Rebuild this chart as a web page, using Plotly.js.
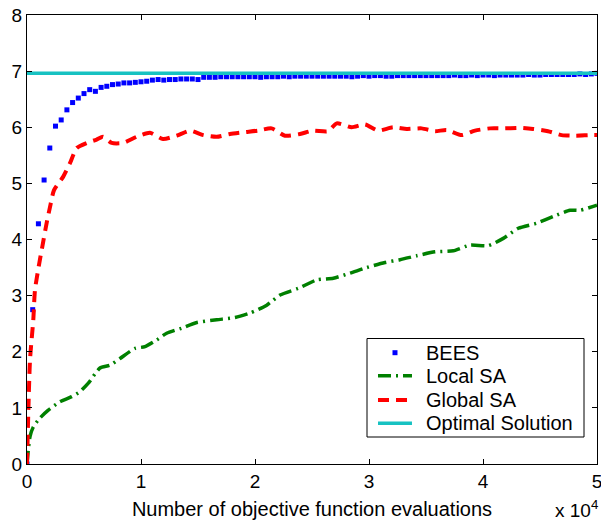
<!DOCTYPE html>
<html>
<head>
<meta charset="utf-8">
<script src="https://cdn.plot.ly/plotly-3.0.1.min.js"></script>
<style>
  html, body { margin: 0; padding: 0; background: #fff; }
  #chart { width: 601px; height: 520px; }
</style>
</head>
<body>
<div id="chart"></div>
<script>
// ---- data ----
const beesX = [0,500,1000,1500,2000,2500,3000,3500,4000,4500,
  5000,5500,6000,6500,7000,7500,8000,8500,9000,9500,
  10000,10500,11000,11500,12000,12500,13000,13500,14000,14500,
  15000,15500,16000,16500,17000,17500,18000,18500,19000,19500,
  20000,20500,21000,21500,22000,22500,23000,23500,24000,24500,
  25000,25500,26000,26500,27000,27500,28000,28500,29000,29500,
  30000,30500,31000,31500,32000,32500,33000,33500,34000,34500,
  35000,35500,36000,36500,37000,37500,38000,38500,39000,39500,
  40000,40500,41000,41500,42000,42500,43000,43500,44000,44500,
  45000,45500,46000,46500,47000,47500,48000,48500,49000,49500,50000];
const beesY = [0,2.75,4.28,5.06,5.63,6.02,6.13,6.31,6.44,6.52,
  6.60,6.67,6.64,6.71,6.73,6.76,6.77,6.79,6.79,6.80,
  6.81,6.82,6.84,6.85,6.84,6.85,6.85,6.86,6.86,6.86,
  6.85,6.89,6.89,6.89,6.90,6.90,6.90,6.90,6.90,6.90,
  6.90,6.89,6.90,6.90,6.90,6.91,6.90,6.91,6.91,6.91,
  6.91,6.91,6.91,6.91,6.91,6.91,6.91,6.90,6.91,6.92,
  6.91,6.92,6.92,6.91,6.91,6.92,6.92,6.92,6.92,6.92,
  6.92,6.92,6.92,6.92,6.92,6.93,6.92,6.92,6.93,6.92,
  6.93,6.93,6.92,6.93,6.93,6.93,6.93,6.93,6.94,6.93,
  6.93,6.94,6.94,6.94,6.94,6.94,6.94,6.95,6.94,6.95,6.96];

const localX = [0,263,553,1140,1870,2890,3920,4650,5380,6400,7280,8160,9470,10350,11380,12250,
  13570,14890,16640,18250,19560,21030,22190,23800,25410,26870,28330,29800,31400,32720,
  34180,35790,37400,38860,40460,41780,43100,44710,46170,47630,48510,49680,50000];
const localY = [0,0.49,0.66,0.82,0.96,1.11,1.20,1.29,1.44,1.71,1.76,1.88,2.06,2.09,2.21,2.33,
  2.42,2.52,2.57,2.61,2.69,2.83,3.01,3.13,3.28,3.31,3.40,3.50,3.59,3.64,
  3.71,3.78,3.80,3.90,3.89,4.02,4.20,4.29,4.41,4.52,4.52,4.59,4.61];

const globalX = [0,263,553,700,1080,1340,1730,2020,2370,3180,3770,4360,5240,6110,6670,7430,8420,
  9620,10790,11930,13130,14300,15470,16640,17810,18950,20260,21460,22630,23950,25090,26400,
  27170,28480,29650,30790,32110,33310,34620,35790,36820,38130,39300,40610,41930,43250,44390,
  45700,46900,48070,49390,50000];
const globalY = [0,1.85,2.57,3.10,3.58,3.87,4.30,4.58,4.88,5.12,5.36,5.63,5.72,5.78,5.83,5.72,5.72,
  5.83,5.90,5.79,5.85,5.94,5.86,5.83,5.88,5.91,5.94,5.98,5.85,5.88,5.94,5.93,
  6.07,6.00,6.05,5.94,6.00,5.97,5.98,5.93,5.95,5.86,5.94,5.98,5.98,5.99,5.97,
  5.93,5.86,5.85,5.86,5.86];

const optimalX = [0, 50000];
const optimalY = [6.96, 6.96];

const xTickVals = [0,10000,20000,30000,40000,50000];
const xTickText = ['0','1','2','3','4','5'];
const yTickVals = [0,1,2,3,4,5,6,7,8];

const seriesNames = ['BEES','Local SA','Global SA','Optimal Solution'];

// ---- styles ----
const FONT = 'Liberation Sans, Arial, Helvetica, sans-serif';
const COLORS = ['#0000ff', '#008000', '#ff0000', '#17c2c2'];
const DASHES = [null, '13px,5px,2px,5px', '11px,7px', 'solid'];
const WIDTHS = [0, 3.5, 4, 3.5];

const traces = [
  {x: beesX, y: beesY, name: seriesNames[0], type: 'scatter', mode: 'markers',
   marker: {symbol: 'square', size: 5, color: COLORS[0]}},
  {x: localX, y: localY, name: seriesNames[1], type: 'scatter', mode: 'lines',
   line: {color: COLORS[1], width: WIDTHS[1], dash: DASHES[1], shape: 'spline', smoothing: 0.6}},
  {x: globalX, y: globalY, name: seriesNames[2], type: 'scatter', mode: 'lines',
   line: {color: COLORS[2], width: WIDTHS[2], dash: DASHES[2], shape: 'spline', smoothing: 0.6}},
  {x: optimalX, y: optimalY, name: seriesNames[3], type: 'scatter', mode: 'lines',
   line: {color: COLORS[3], width: WIDTHS[3]}}
];

// ---- MATLAB-style legend box, drawn in paper coordinates ----
const PLOT_W = 570, PLOT_H = 449;           // plot area in px
const px2x = p => p / PLOT_W;               // px offset -> paper x
const px2y = p => p / PLOT_H;               // px offset -> paper y
const LEG = {x0: 0.5965, x1: 0.9772, y0: 0.0601, y1: 0.2795};
const legLineX0 = 0.6158, legLineX1 = 0.6754, legTextX = 0.6965;
const legRowY = [0.2479, 0.1967, 0.1425, 0.0906];

const shapes = [{
  type: 'rect', xref: 'paper', yref: 'paper',
  x0: LEG.x0, x1: LEG.x1, y0: LEG.y0, y1: LEG.y1,
  line: {color: '#000', width: 1}, fillcolor: '#fff', layer: 'above'
}];
const annotations = [];
seriesNames.forEach((nm, i) => {
  if (i === 0) {
    const cx = (legLineX0 + legLineX1) / 2;
    shapes.push({type: 'rect', xref: 'paper', yref: 'paper',
      x0: cx - px2x(2.5), x1: cx + px2x(2.5), y0: legRowY[i] - px2y(2.5), y1: legRowY[i] + px2y(2.5),
      line: {width: 0}, fillcolor: COLORS[0], layer: 'above'});
  } else {
    shapes.push({type: 'line', xref: 'paper', yref: 'paper',
      x0: legLineX0, x1: legLineX1, y0: legRowY[i], y1: legRowY[i],
      line: {color: COLORS[i], width: WIDTHS[i], dash: DASHES[i]}, layer: 'above'});
  }
  annotations.push({text: nm, xref: 'paper', yref: 'paper', x: legTextX, y: legRowY[i],
    xanchor: 'left', yanchor: 'middle', showarrow: false,
    font: {family: FONT, size: 20, color: '#000'}});
});
annotations.push({
  text: 'x 10<sup>4</sup>', xref: 'paper', yref: 'paper', x: 1.0, y: -0.10,
  xanchor: 'right', yanchor: 'middle', showarrow: false, xshift: 3,
  font: {family: FONT, size: 19, color: '#000'}
});

const axisCommon = {
  showline: true, linecolor: '#000', linewidth: 1.2,
  mirror: 'ticks', ticks: 'inside', ticklen: 5, tickcolor: '#000', tickwidth: 1,
  showgrid: false, zeroline: false, automargin: false,
  ticklabeloverflow: 'allow',
  tickfont: {family: FONT, size: 19, color: '#000'}
};

const layout = {
  width: 601, height: 520,
  margin: {l: 27, r: 4, t: 15, b: 56},
  paper_bgcolor: '#fff', plot_bgcolor: '#fff',
  font: {family: FONT, color: '#000'},
  showlegend: false,
  xaxis: Object.assign({}, axisCommon, {
    range: [0, 50000], tickvals: xTickVals, ticktext: xTickText,
    title: {text: 'Number of objective function evaluations', font: {family: FONT, size: 20, color: '#000'}, standoff: 14}
  }),
  yaxis: Object.assign({}, axisCommon, {
    range: [0, 8], tickvals: yTickVals
  }),
  shapes: shapes,
  annotations: annotations
};

Plotly.newPlot('chart', traces, layout, {displayModeBar: false, staticPlot: true});
</script>
</body>
</html>
